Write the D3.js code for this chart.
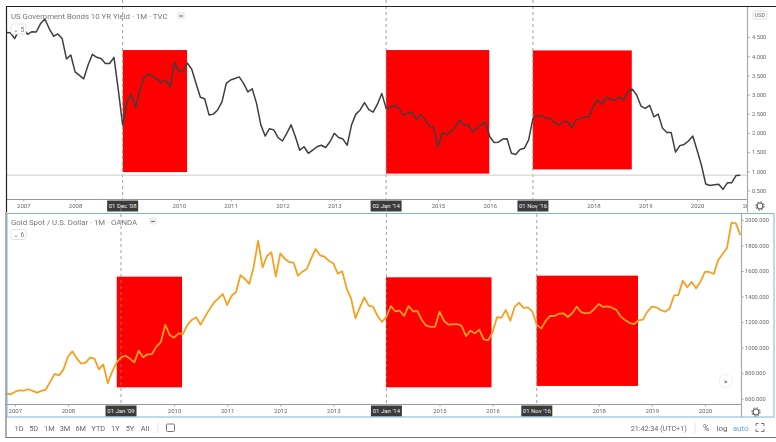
<!DOCTYPE html>
<html><head><meta charset="utf-8">
<script src="https://cdnjs.cloudflare.com/ajax/libs/d3/7.8.5/d3.min.js"></script>
<style>html,body{margin:0;padding:0;background:#fff}svg{display:block;filter:blur(0.45px)}text{font-family:Roboto,"Liberation Sans",sans-serif}</style>
</head><body><svg id="c" width="776" height="442"></svg>
<script>
const yieldValues=[4.62,4.61,4.46,4.68,4.72,4.57,4.64,4.63,4.85,4.97,4.72,4.52,4.58,4.46,3.93,4.03,3.59,3.50,3.41,3.77,4.05,3.97,3.94,3.81,3.81,3.97,3.12,2.21,2.81,3.01,2.66,3.12,3.46,3.53,3.48,3.41,3.31,3.38,3.19,3.84,3.59,3.62,3.82,3.66,3.29,2.93,2.89,2.47,2.49,2.60,2.81,3.29,3.38,3.42,3.46,3.29,3.07,3.15,2.77,2.21,1.92,2.11,2.08,1.88,1.79,1.99,2.21,1.90,1.55,1.64,1.47,1.55,1.64,1.68,1.62,1.77,1.99,1.88,1.84,1.68,2.21,2.49,2.60,2.79,2.61,2.54,2.75,3.03,2.64,2.67,2.72,2.64,2.47,2.51,2.55,2.35,2.48,2.34,2.18,2.14,1.64,2.01,1.95,2.03,2.14,2.34,2.21,2.21,2.03,2.12,2.22,2.28,1.90,1.75,1.76,1.84,1.85,1.47,1.44,1.57,1.60,1.82,2.38,2.44,2.45,2.39,2.37,2.27,2.21,2.29,2.30,2.13,2.34,2.38,2.42,2.42,2.70,2.86,2.74,2.94,2.86,2.86,2.94,2.86,3.07,3.14,2.99,2.70,2.64,2.72,2.42,2.49,2.12,2.01,2.01,1.50,1.67,1.70,1.79,1.92,1.55,1.16,0.67,0.63,0.65,0.66,0.53,0.70,0.70,0.89,0.90];
const goldValues=[642,634,653,666,663,674,661,648,661,671,734,794,783,830,929,971,916,875,882,922,914,830,869,721,812,882,924,937,914,885,976,924,948,950,1008,1044,1178,1099,1078,1112,1107,1178,1217,1238,1180,1243,1300,1352,1386,1420,1334,1407,1436,1567,1538,1499,1634,1838,1629,1718,1747,1556,1739,1697,1671,1666,1564,1595,1616,1700,1773,1723,1713,1679,1661,1580,1598,1465,1386,1230,1316,1394,1329,1319,1248,1201,1243,1326,1285,1290,1248,1326,1285,1287,1217,1172,1162,1164,1282,1211,1180,1183,1185,1170,1091,1133,1112,1141,1065,1057,1120,1238,1235,1295,1211,1321,1352,1311,1316,1282,1178,1149,1209,1248,1248,1266,1269,1240,1269,1321,1279,1269,1272,1303,1342,1319,1324,1313,1295,1243,1214,1193,1185,1214,1219,1282,1321,1316,1295,1282,1305,1407,1413,1525,1473,1514,1465,1517,1593,1593,1577,1687,1734,1781,1979,1974,1883];
const yieldStart=2006+8/12, goldStart=2006+10/12;
const topYears=[2007,2008,2010,2011,2012,2013,2015,2016,2018,2019,2020,2021];
const botYears=[2007,2008,2010,2011,2012,2013,2015,2016,2018,2019,2020];
const topTicks=[0.5,1,1.5,2,2.5,3,3.5,4,4.5];
const botTicks=[600,800,1000,1200,1400,1600,1800,2000];
const topBoxes=[[2008.92,2010.16,0.98,4.16],[2014.0,2015.99,0.94,4.16],[2016.83,2018.74,1.05,4.15]];
const botBoxes=[[2008.92,2010.15,689,1556],[2013.99,2015.98,689,1551],[2016.83,2018.74,700,1564]];
const topMarkers=[[2008.917,"01 Dec '08"],[2014.0,"02 Jan '14"],[2016.833,"01 Nov '16"]];
const botMarkers=[[2009.0,"01 Jan '09"],[2014.0,"01 Jan '14"],[2016.833,"01 Nov '16"]];
const rangeButtons=["1D","5D","1M","3M","6M","YTD","1Y","5Y","All"];
const rangeX=[19,33.7,49.3,65,80.7,98.3,115.3,130,145];
const topTitle="US Government Bonds 10 YR Yield · 1M · TVC", botTitle="Gold Spot / U.S. Dollar · 1M · OANDA";
const lastYield=0.90;

const svg=d3.select("#c");
const X0=6,XEND=740.3;
const xT=d3.scaleLinear().domain([yieldStart,yieldStart+(yieldValues.length-1)/12]).range([X0,XEND]);
const xB=d3.scaleLinear().domain([goldStart,goldStart+(goldValues.length-1)/12]).range([X0,XEND]);
const yT=d3.scaleLinear().domain([0.5,4.5]).range([190.5,37]);
const yB=d3.scaleLinear().domain([600,2000]).range([398.7,220]);

svg.append("defs").append("clipPath").attr("id","clipT").append("rect").attr("x",7).attr("y",0).attr("width",740).attr("height",20);

function pane(o){
  const g=svg.append("g");
  g.selectAll(".box").data(o.boxes).join("rect").attr("fill","#fe0000")
    .attr("x",d=>o.x(d[0])).attr("width",d=>o.x(d[1])-o.x(d[0]))
    .attr("y",d=>o.y(d[3])).attr("height",d=>o.y(d[2])-o.y(d[3]));
  g.selectAll(".mk").data(o.markers).join("line")
    .attr("x1",d=>o.x(d[0])).attr("x2",d=>o.x(d[0])).attr("y1",o.top).attr("y2",o.bottom)
    .attr("stroke","#888").attr("stroke-width",0.8).attr("stroke-dasharray","3 3");
  if(o.extra) o.extra(g);
  const line=d3.line().x((d,i)=>o.x(o.start+i/12)).y(d=>o.y(d));
  g.append("path").datum(o.values).attr("d",line).attr("fill","none").attr("stroke",o.color)
    .attr("stroke-width",o.width).attr("stroke-linejoin","round");
  // time axis
  const ax=g.append("g").attr("transform",`translate(0,${o.bottom})`).attr("clip-path","url(#clipT)")
    .call(d3.axisBottom(o.x).tickValues(o.years).tickFormat(d3.format("d")).tickSize(2).tickPadding(2));
  ax.select(".domain").remove();
  ax.selectAll("line").attr("stroke","#aaa");
  ax.selectAll("text").attr("fill","#666").attr("font-size",6);
  g.append("line").attr("x1",6).attr("x2",o.axisX).attr("y1",o.bottom).attr("y2",o.bottom).attr("stroke","#999");
  // price axis
  const ay=g.append("g").attr("transform",`translate(${o.axisX},0)`)
    .call(d3.axisRight(o.y).tickValues(o.ticks).tickFormat(d3.format(".3f")).tickSize(2).tickPadding(o.pad));
  ay.select(".domain").remove();
  ay.selectAll("line").attr("stroke","#999");
  ay.selectAll("text").attr("fill","#666").attr("font-size",5.7);
  g.append("line").attr("x1",o.axisX).attr("x2",o.axisX).attr("y1",o.top+6).attr("y2",o.axisEnd).attr("stroke","#aaa").attr("stroke-width",1.2);
  // date badges
  const b=g.selectAll(".bd").data(o.markers).join("g").attr("transform",d=>`translate(${o.x(d[0])},${o.bottom})`);
  b.append("rect").attr("x",-15.5).attr("y",1).attr("width",31).attr("height",11).attr("fill","#3b3b3b");
  b.append("text").attr("y",8.8).attr("text-anchor","middle").attr("fill","#eee").attr("font-size",6).text(d=>d[1]);
  // title
  g.append("text").attr("x",11).attr("y",o.titleY).attr("fill","#777").attr("font-size",7.8).text(o.title);
  const hb=g.append("g").attr("transform",`translate(${o.hideX},${o.titleY-3})`);
  hb.append("rect").attr("x",-4).attr("y",-4).attr("width",8).attr("height",7).attr("rx",2).attr("fill","#eee");
  hb.append("line").attr("x1",-2).attr("x2",2).attr("stroke","#777");
  const lb=g.append("g").attr("transform",`translate(11,${o.titleY+5})`);
  lb.append("rect").attr("width",15).attr("height",10).attr("rx",2).attr("fill","#fff").attr("stroke","#e5e5e5");
  lb.append("text").attr("x",7.5).attr("y",7.5).attr("text-anchor","middle").attr("fill","#777").attr("font-size",6.5).text(o.badge);
}
function gear(cx,cy){
  const g=svg.append("g").attr("transform",`translate(${cx},${cy})`);
  g.append("circle").attr("r",3).attr("fill","none").attr("stroke","#555").attr("stroke-width",1.2);
  g.append("circle").attr("r",4.2).attr("fill","none").attr("stroke","#555").attr("stroke-width",1).attr("stroke-dasharray","1.5 1.8");
}

pane({x:xT,y:yT,boxes:topBoxes,markers:topMarkers,values:yieldValues,start:yieldStart,years:topYears,ticks:topTicks,
  color:"#3f3f3f",width:1.5,top:0,bottom:199.5,axisX:747.5,axisEnd:212.5,pad:2.5,title:topTitle,titleY:19,hideX:181,badge:"⌄ 5",
  extra:g=>g.append("line").attr("x1",6).attr("x2",747).attr("y1",yT(lastYield)).attr("y2",yT(lastYield)).attr("stroke","#ccc")});
pane({x:xB,y:yB,boxes:botBoxes,markers:botMarkers,values:goldValues,start:goldStart,years:botYears,ticks:botTicks,
  color:"#f6a020",width:1.8,top:208,bottom:404.5,axisX:741.5,axisEnd:417,pad:1.5,title:botTitle,titleY:224.5,hideX:153,badge:"⌄ 6"});

// frame
svg.append("path").attr("d","M6.5,212V6.5H776").attr("fill","none").attr("stroke","#222").attr("stroke-width",1.2);
svg.append("path").attr("d","M6,212V437.5H776").attr("fill","none").attr("stroke","#777").attr("stroke-width",1.2);
svg.append("rect").attr("x",7).attr("y",213.5).attr("width",767).attr("height",203.5).attr("fill","none").attr("stroke","#7fb2de").attr("stroke-width",1);

// USD tag
svg.append("rect").attr("x",753).attr("y",11).attr("width",14).attr("height",8).attr("rx",1.5).attr("fill","#fff").attr("stroke","#ddd");
svg.append("text").attr("x",760).attr("y",17.3).attr("text-anchor","middle").attr("fill","#666").attr("font-size",5.5).text("USD");
gear(760,206);gear(756,412);

// scroll button
svg.append("circle").attr("cx",725.7).attr("cy",381).attr("r",6.5).attr("fill","#fff").attr("stroke","#eee");
svg.append("text").attr("x",725.7).attr("y",384).attr("text-anchor","middle").attr("fill","#555").attr("font-size",8).text("»");

// toolbar
svg.selectAll(".rb").data(rangeButtons).join("text").attr("x",(d,i)=>rangeX[i]).attr("y",430.5)
  .attr("text-anchor","middle").attr("fill","#666").attr("font-size",7.4).text(d=>d);
svg.append("line").attr("x1",158).attr("x2",158).attr("y1",422).attr("y2",433).attr("stroke","#e5e5e5");
svg.append("rect").attr("x",166.5).attr("y",424).attr("width",8).attr("height",7.5).attr("rx",1).attr("fill","none").attr("stroke","#777");
svg.append("text").attr("x",658.7).attr("y",430.5).attr("text-anchor","middle").attr("fill","#666").attr("font-size",7.2).text("21:42:34 (UTC+1)");
svg.append("line").attr("x1",695).attr("x2",695).attr("y1",422).attr("y2",433).attr("stroke","#e5e5e5");
svg.append("text").attr("x",706).attr("y",430.5).attr("text-anchor","middle").attr("fill","#666").attr("font-size",8.5).text("%");
svg.append("text").attr("x",722).attr("y",430.5).attr("text-anchor","middle").attr("fill","#666").attr("font-size",8).text("log");
svg.append("text").attr("x",740.7).attr("y",430.5).attr("text-anchor","middle").attr("fill","#6aa5e0").attr("font-size",8).text("auto");
svg.append("path").attr("d","M756,426V423.5H758.5M761,423.5H764V426M764,429V431.5H761M758.5,431.5H756V429").attr("fill","none").attr("stroke","#777");
</script></body></html>
